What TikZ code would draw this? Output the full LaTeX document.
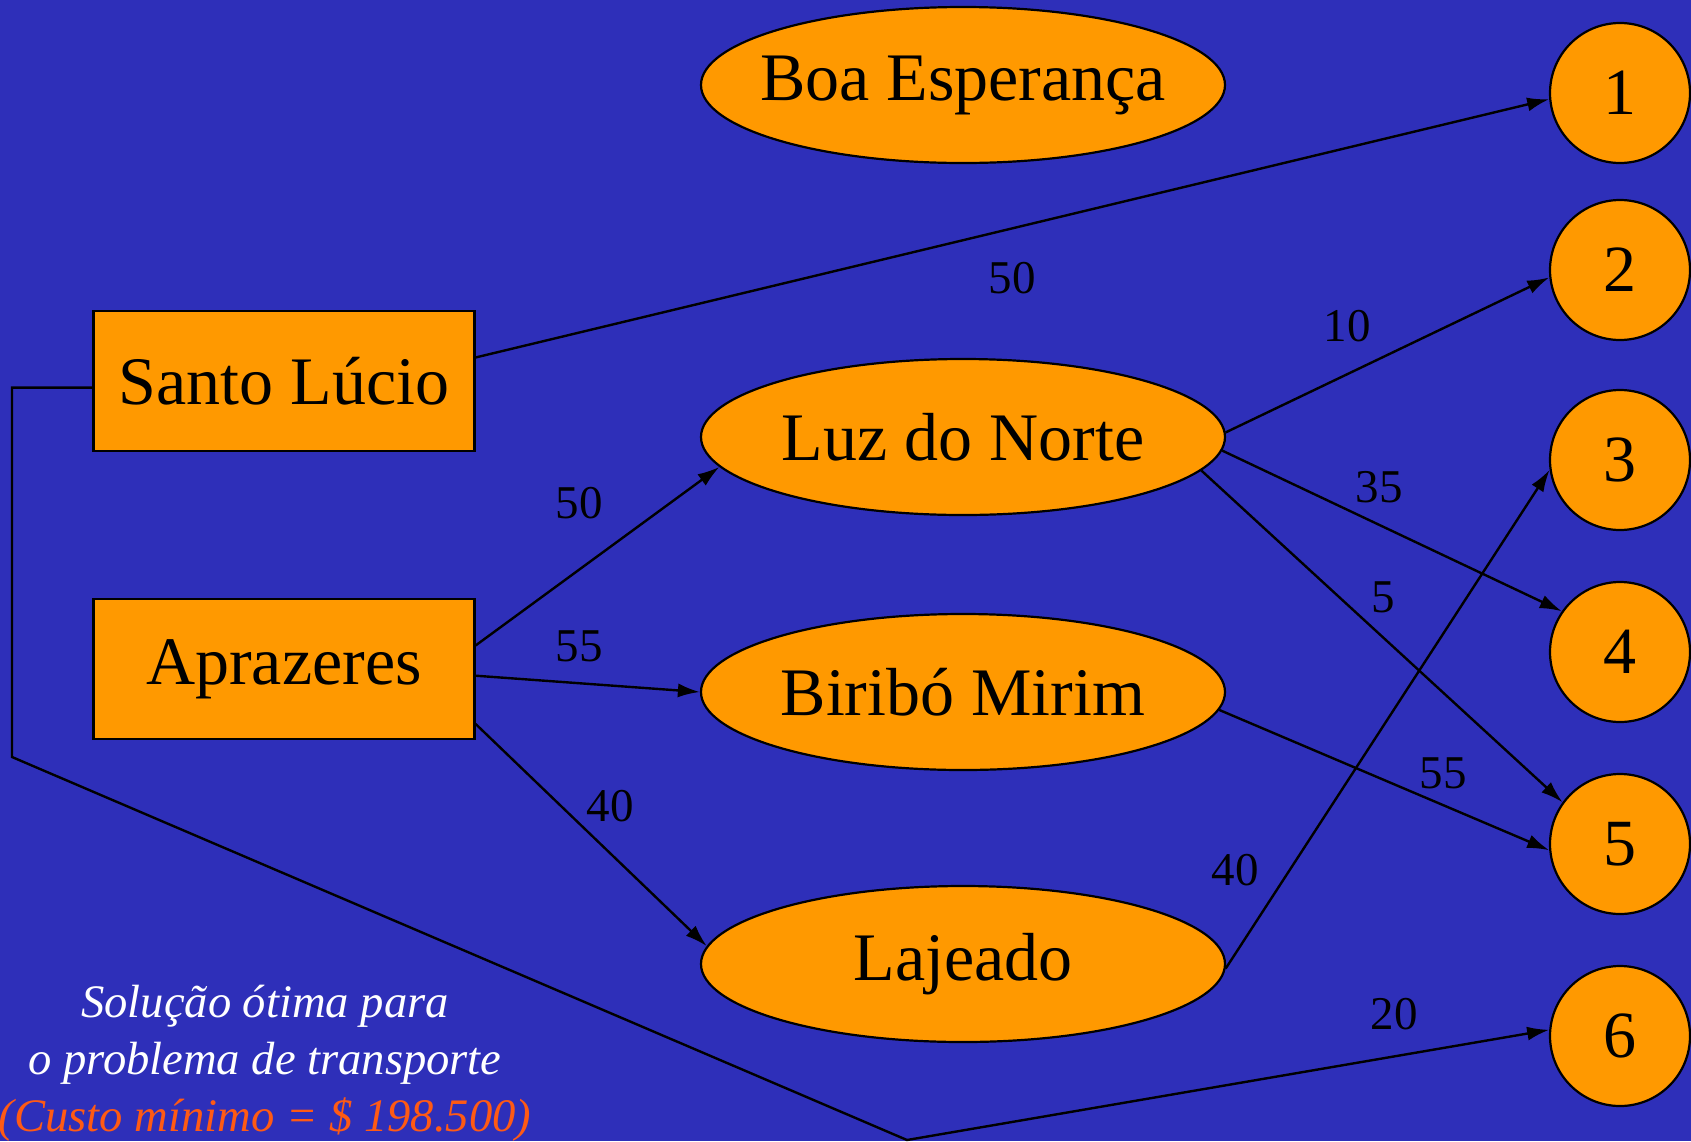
\documentclass[tikz,border=0pt]{standalone}
\usepackage{fontspec}
\setmainfont{Liberation Serif}
\usetikzlibrary{shapes.geometric,arrows.meta}
\definecolor{bgblue}{RGB}{46,47,185}
\definecolor{nodeorange}{RGB}{255,153,0}
\definecolor{costred}{RGB}{255,90,20}
\newcommand{\ctext}[1]{\makebox[0pt][c]{#1}}
\begin{document}
\begin{tikzpicture}[x=0.5pt,y=-0.5pt,
  every node/.style={inner sep=0pt},
  srcbox/.style={draw=black,line width=1.1pt,fill=nodeorange,rectangle,minimum width=190.5pt,minimum height=70pt,font=\fontsize{34}{38}\selectfont},
  midell/.style={draw=black,line width=1.1pt,fill=nodeorange,ellipse,minimum width=262pt,minimum height=78pt,font=\fontsize{34}{38}\selectfont},
  dest/.style={draw=black,line width=1.1pt,fill=nodeorange,circle,minimum size=70pt,font=\fontsize{33}{38}\selectfont},
  flow/.style={draw=black,line width=1.2pt,-{Latex[length=11pt,width=7pt]}},
  qty/.style={font=\fontsize{23.5}{26}\selectfont,text=black}]
\fill[bgblue] (0,0) rectangle (1691,1141);
\useasboundingbox (0,0) rectangle (1691,1141);
% sources
\node[srcbox] (santo) at (284,381) {Santo Lúcio};
\node[srcbox] (apra) at (284,669) {Aprazeres};
% transshipment
\node[midell] (boa) at (963,85) {\ctext{Boa Esperança}};
\node[midell] (luz) at (963,437) {\ctext{Luz do Norte}};
\node[midell] (biri) at (963,692) {\ctext{Biribó Mirim}};
\node[midell] (laj) at (963,964) {\ctext{Lajeado}};
% destinations
\node[dest] (c1) at (1620,93) {1};
\node[dest] (c2) at (1620,270) {2};
\node[dest] (c3) at (1620,460) {3};
\node[dest] (c4) at (1620,652) {4};
\node[dest] (c5) at (1620,844) {5};
\node[dest] (c6) at (1620,1036) {6};
% connectors
\draw[flow] (santo.7.2) -- (c1.185.5);
\draw[flow] (apra.7) -- (luz.187);
\draw[flow] (apra.-2.7) -- (biri.west);
\draw[flow] (apra.-16.7) -- (laj.176);
\draw[flow] (luz.1) -- (c2.186);
\draw[flow] (luz.-3.6) -- (c4.145);
\draw[flow] (luz.-8) -- (c5.144);
\draw[flow] (biri.-4) -- (c5.185);
\draw[flow] (laj.-1) -- (c3.188);
\coordinate (k2) at (12,757);
\coordinate (k3) at (907,1140);
\draw[flow] (santo.182.4) -| (k2) -- (k3) -- (c6.175);
% quantities
\node[qty] (q1) at (1012,278) {50};
\node[qty] (q2) at (579,503) {50};
\node[qty] (q3) at (579,646) {55};
\node[qty] (q4) at (610,806) {40};
\node[qty] (q5) at (1347,326) {10};
\node[qty] (q6) at (1379,487) {35};
\node[qty] (q7) at (1383,597) {5};
\node[qty] (q8) at (1443,773) {55};
\node[qty] (q9) at (1235,870) {40};
\node[qty] (q10) at (1394,1014) {20};
% caption
\node[font=\fontsize{23.3}{28.5}\selectfont\itshape,align=center,text=white] (cap) at (265,1063)
  {Solução ótima para\\o problema de transporte\\\textcolor{costred}{(Custo mínimo = \$ 198.500)}};
\end{tikzpicture}
\end{document}
